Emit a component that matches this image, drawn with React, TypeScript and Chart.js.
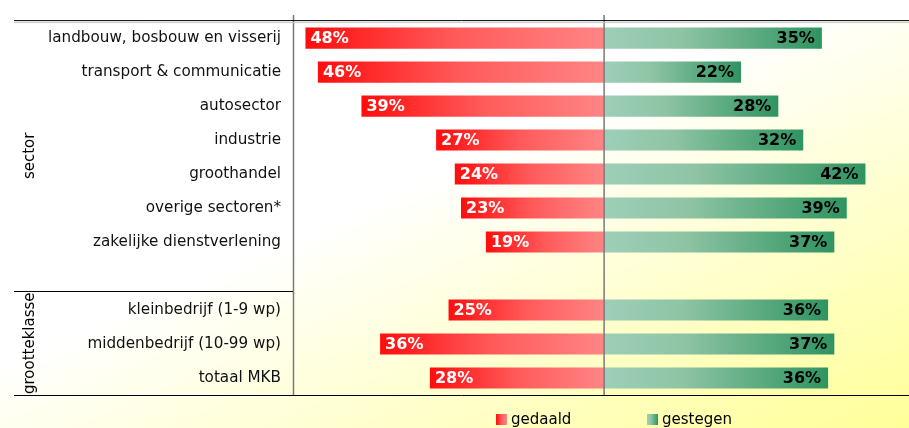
import React, { useEffect, useRef } from "react";
import { Chart, registerables } from "chart.js";

Chart.register(...registerables);

const categories = [
  "landbouw, bosbouw en visserij",
  "transport & communicatie",
  "autosector",
  "industrie",
  "groothandel",
  "overige sectoren*",
  "zakelijke dienstverlening",
  "",
  "kleinbedrijf (1-9 wp)",
  "middenbedrijf (10-99 wp)",
  "totaal MKB",
];
const gedaald: (number | null)[] = [48, 46, 39, 27, 24, 23, 19, null, 25, 36, 28];
const gestegen: (number | null)[] = [35, 22, 28, 32, 42, 39, 37, null, 36, 37, 36];
const seriesNames = ["gedaald", "gestegen"];
const groupLabels = [
  { text: "sector", from: 0, to: 7 },
  { text: "grootteklasse", from: 8, to: 11 },
];

const FONT = '"DejaVu Sans", Verdana, sans-serif';

function redGradient(ctx: CanvasRenderingContext2D, x0: number, x1: number) {
  const g = ctx.createLinearGradient(x0, 0, x1, 0);
  g.addColorStop(0, "#ff0d0d");
  g.addColorStop(0.5, "#ff5a5a");
  g.addColorStop(1, "#ff8585");
  return g;
}
function greenGradient(ctx: CanvasRenderingContext2D, x0: number, x1: number) {
  const g = ctx.createLinearGradient(x0, 0, x1, 0);
  g.addColorStop(0, "#9dcfb8");
  g.addColorStop(0.35, "#8ec4a4");
  g.addColorStop(1, "#2f9461");
  return g;
}

const bgPlugin = {
  id: "bg",
  beforeDraw(chart: any) {
    const { ctx, width, height } = chart;
    ctx.save();
    const g = ctx.createLinearGradient(740, 40, 909, 428);
    g.addColorStop(0, "#ffffff");
    g.addColorStop(0.5, "#ffffcc");
    g.addColorStop(1, "#ffff99");
    ctx.fillStyle = g;
    ctx.fillRect(0, 0, width, height);
    ctx.fillStyle = "#ffffff";
    ctx.fillRect(0, 0, width, chart.chartArea ? chart.chartArea.top - 1 : 18);
    ctx.restore();
  },
};

const overlayPlugin = {
  id: "overlay",
  afterDatasetsDraw(chart: any) {
    const { ctx, chartArea, scales, width } = chart;
    const xs = scales.x;
    const ys = scales.y;
    const cx = xs.getPixelForValue(0);
    const top = chartArea.top;
    const bottom = chartArea.bottom;
    const left = chartArea.left;
    ctx.save();

    // bar value labels
    ctx.font = `bold 16px ${FONT}`;
    ctx.textBaseline = "middle";
    for (let i = 0; i < categories.length; i++) {
      const y = ys.getPixelForValue(i) + 1;
      const r = gedaald[i];
      if (r != null) {
        ctx.fillStyle = "#ffffff";
        ctx.textAlign = "left";
        ctx.fillText(`${r}%`, xs.getPixelForValue(-r) + 5, y);
      }
      const gv = gestegen[i];
      if (gv != null) {
        ctx.fillStyle = "#000000";
        ctx.textAlign = "right";
        ctx.fillText(`${gv}%`, xs.getPixelForValue(gv) - 7, y);
      }
    }

    // vertical lines
    ctx.strokeStyle = "#7a7a7a";
    ctx.lineWidth = 1.5;
    ctx.beginPath();
    ctx.moveTo(left + 0.5, top - 6);
    ctx.lineTo(left + 0.5, bottom);
    ctx.moveTo(cx, top - 6);
    ctx.lineTo(cx, bottom);
    ctx.stroke();

    // horizontal lines
    ctx.strokeStyle = "#c8c8c8";
    ctx.lineWidth = 1;
    ctx.beginPath();
    ctx.moveTo(14, top + 1.5);
    ctx.lineTo(width, top + 1.5);
    ctx.stroke();
    ctx.strokeStyle = "#000000";
    ctx.beginPath();
    ctx.moveTo(14, top - 0.5);
    ctx.lineTo(width, top - 0.5);
    ctx.moveTo(14, bottom + 0.5);
    ctx.lineTo(width, bottom + 0.5);
    const rowH = (bottom - top) / categories.length;
    const sepY = Math.round(top + rowH * groupLabels[1].from - 2) + 0.5;
    ctx.moveTo(14, sepY);
    ctx.lineTo(left, sepY);
    ctx.stroke();

    // group labels
    ctx.font = `15px ${FONT}`;
    ctx.fillStyle = "#000000";
    ctx.textAlign = "center";
    ctx.textBaseline = "alphabetic";
    const bounds = [top - 1, sepY, bottom];
    groupLabels.forEach((gl, k) => {
      const cy = (bounds[k] + bounds[k + 1]) / 2;
      ctx.save();
      ctx.translate(34, cy);
      ctx.rotate(-Math.PI / 2);
      ctx.fillText(gl.text, 0, 0);
      ctx.restore();
    });

    // legend
    const items = [
      { x: 496, grad: redGradient(ctx, 496, 507) },
      { x: 647, grad: greenGradient(ctx, 647, 658) },
    ];
    ctx.textAlign = "left";
    items.forEach((it, k) => {
      ctx.fillStyle = it.grad;
      ctx.fillRect(it.x, 414, 11, 11);
      ctx.fillStyle = "#000000";
      ctx.fillText(seriesNames[k], it.x + 15, 424);
    });

    ctx.restore();
  },
};

export default function App() {
  const ref = useRef<HTMLCanvasElement | null>(null);
  useEffect(() => {
    if (!ref.current) return;
    const chart = new Chart(ref.current, {
      type: "bar",
      data: {
        labels: categories,
        datasets: [
          {
            label: seriesNames[0],
            data: gedaald.map((v) => (v == null ? null : -v)),
            backgroundColor: (c: any) => {
              const ch = c.chart;
              if (!ch.chartArea || c.raw == null) return "#ff4040";
              const xs = ch.scales.x;
              return redGradient(ch.ctx, xs.getPixelForValue(c.raw), xs.getPixelForValue(0));
            },
            barPercentage: 0.62,
            categoryPercentage: 1,
          },
          {
            label: seriesNames[1],
            data: gestegen,
            backgroundColor: (c: any) => {
              const ch = c.chart;
              if (!ch.chartArea || c.raw == null) return "#66aa88";
              const xs = ch.scales.x;
              return greenGradient(ch.ctx, xs.getPixelForValue(0), xs.getPixelForValue(c.raw));
            },
            barPercentage: 0.62,
            categoryPercentage: 1,
          },
        ],
      },
      options: {
        indexAxis: "y",
        responsive: false,
        animation: false,
        layout: { padding: { top: 19, bottom: 33, left: 0, right: 0 } },
        scales: {
          x: {
            stacked: true,
            min: -50,
            max: 49,
            display: false,
          },
          y: {
            stacked: true,
            grid: { display: false, drawTicks: false },
            border: { display: false },
            ticks: {
              padding: 12,
              color: "#111111",
              font: { family: FONT, size: 15.2 },
              autoSkip: false,
            },
            afterFit: (scale: any) => {
              scale.width = 293;
            },
          },
        },
        plugins: {
          legend: { display: false },
          tooltip: { enabled: false },
        },
      },
      plugins: [bgPlugin, overlayPlugin],
    } as any);
    return () => chart.destroy();
  }, []);
  return (
    <div style={{ position: "fixed", left: 0, top: 0, width: 909, height: 428 }}>
      <canvas ref={ref} width={909} height={428} style={{ display: "block" }} />
    </div>
  );
}
